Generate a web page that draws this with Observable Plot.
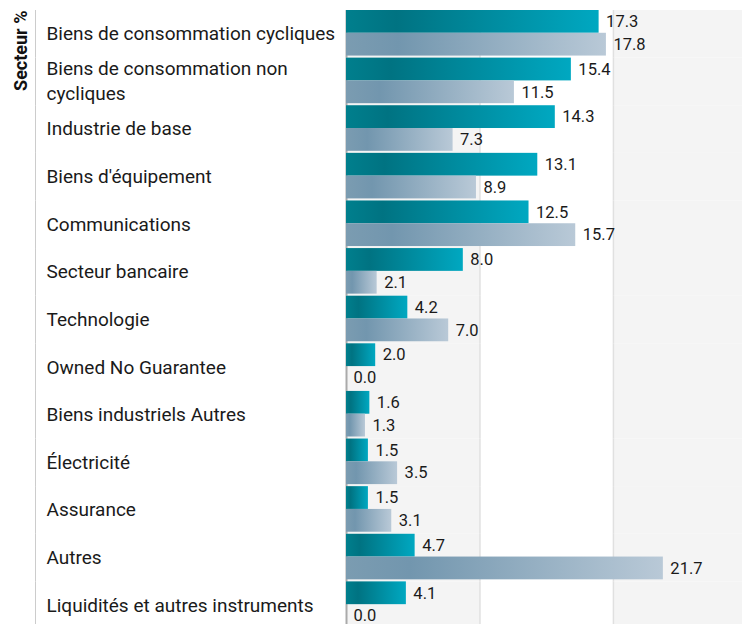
<!DOCTYPE html>
<html>
<head>
<meta charset="utf-8">
<script src="https://cdn.jsdelivr.net/npm/d3@7"></script>
<script src="https://cdn.jsdelivr.net/npm/@observablehq/plot@0.6"></script>
<style>
  html, body { margin: 0; padding: 0; background: #fff; }
  #chart svg { display: block; }
</style>
</head>
<body>
<div id="chart"></div>
<script>
const categories = [
  "Biens de consommation cycliques",
  "Biens de consommation non cycliques",
  "Industrie de base",
  "Biens d'équipement",
  "Communications",
  "Secteur bancaire",
  "Technologie",
  "Owned No Guarantee",
  "Biens industriels Autres",
  "Électricité",
  "Assurance",
  "Autres",
  "Liquidités et autres instruments"
];
const categoryLabels = [
  "Biens de consommation cycliques",
  "Biens de consommation non\ncycliques",
  "Industrie de base",
  "Biens d'équipement",
  "Communications",
  "Secteur bancaire",
  "Technologie",
  "Owned No Guarantee",
  "Biens industriels Autres",
  "Électricité",
  "Assurance",
  "Autres",
  "Liquidités et autres instruments"
];
const series = ["Fonds", "Indice"];
const fundValues  = [17.3, 15.4, 14.3, 13.1, 12.5, 8.0, 4.2, 2.0, 1.6, 1.5, 1.5, 4.7, 4.1];
const indexValues = [17.8, 11.5, 7.3, 8.9, 15.7, 2.1, 7.0, 0.0, 1.3, 3.5, 3.1, 21.7, 0.0];
const xMax = 27.12;
const gridTicks = [9.14, 18.28];
const axisTitle = "Secteur %";

const rows = [];
categories.forEach((c, i) => {
  rows.push({cat: c, series: series[0], value: fundValues[i]});
  rows.push({cat: c, series: series[1], value: indexValues[i]});
});
const bandEdges = [0, ...gridTicks, xMax];
const bands = [0, 2].map(k => ({x1: bandEdges[k], x2: bandEdges[k + 1]}));
const labelRows = categories.map((c, i) => ({cat: c, label: categoryLabels[i]}));

const font = "Roboto, 'Noto Sans', sans-serif";

const chart = Plot.plot({
  width: 742,
  height: 629,
  marginTop: 10,
  marginBottom: 0,
  marginLeft: 346,
  marginRight: 0,
  style: {fontFamily: font, background: "#fff"},
  x: {domain: [0, xMax], axis: null},
  fy: {domain: categories, padding: 0, round: false, axis: null},
  y: {domain: series, paddingInner: 0, paddingOuter: 0.045, align: 0, round: false, axis: null},
  marks: [
    Plot.rectX(bands, {x1: "x1", x2: "x2", fill: "#f4f4f4"}),
    Plot.ruleX(gridTicks, {stroke: "#e0e0e0", strokeWidth: 1.5}),
    Plot.ruleX([0], {stroke: "#aaaaaa", strokeWidth: 2}),
    Plot.ruleX([0], {dx: -311, stroke: "#cccccc", strokeWidth: 1}),
    Plot.barX(rows, {
      fy: "cat", y: "series", x: "value",
      fill: d => d.series === series[0] ? "url(#gradTeal)" : "url(#gradGray)"
    }),
    Plot.text(rows, {
      fy: "cat", y: "series", x: "value", text: d => d.value.toFixed(1),
      textAnchor: "start", dx: 7, fontSize: 16.5, fill: "#1a1a1a"
    }),
    Plot.text(labelRows, {
      fy: "cat", text: "label", frameAnchor: "left", textAnchor: "start",
      dx: -300, dy: -2, fontSize: 19, fill: "#1a1a1a", lineHeight: 1.3
    }),
    Plot.text([axisTitle], {
      fy: [categories[0]], text: d => d, frameAnchor: "top-left", rotate: -90,
      textAnchor: "end", lineAnchor: "middle", dx: -325, dy: 0,
      fontSize: 18, fontWeight: "bold", fill: "#111"
    })
  ]
});

const svg = d3.select(chart);
const defs = svg.insert("defs", ":first-child");
const g1 = defs.append("linearGradient").attr("id", "gradTeal").attr("x1", 0).attr("x2", 1).attr("y1", 0).attr("y2", 0);
g1.append("stop").attr("offset", "0%").attr("stop-color", "#007f8d");
g1.append("stop").attr("offset", "20%").attr("stop-color", "#007382");
g1.append("stop").attr("offset", "100%").attr("stop-color", "#00a8c1");
const g2 = defs.append("linearGradient").attr("id", "gradGray").attr("x1", 0).attr("x2", 1).attr("y1", 0).attr("y2", 0);
g2.append("stop").attr("offset", "0%").attr("stop-color", "#7b9cb1");
g2.append("stop").attr("offset", "20%").attr("stop-color", "#7296ae");
g2.append("stop").attr("offset", "100%").attr("stop-color", "#b9c9d7");

document.getElementById("chart").appendChild(chart);
</script>
</body>
</html>
